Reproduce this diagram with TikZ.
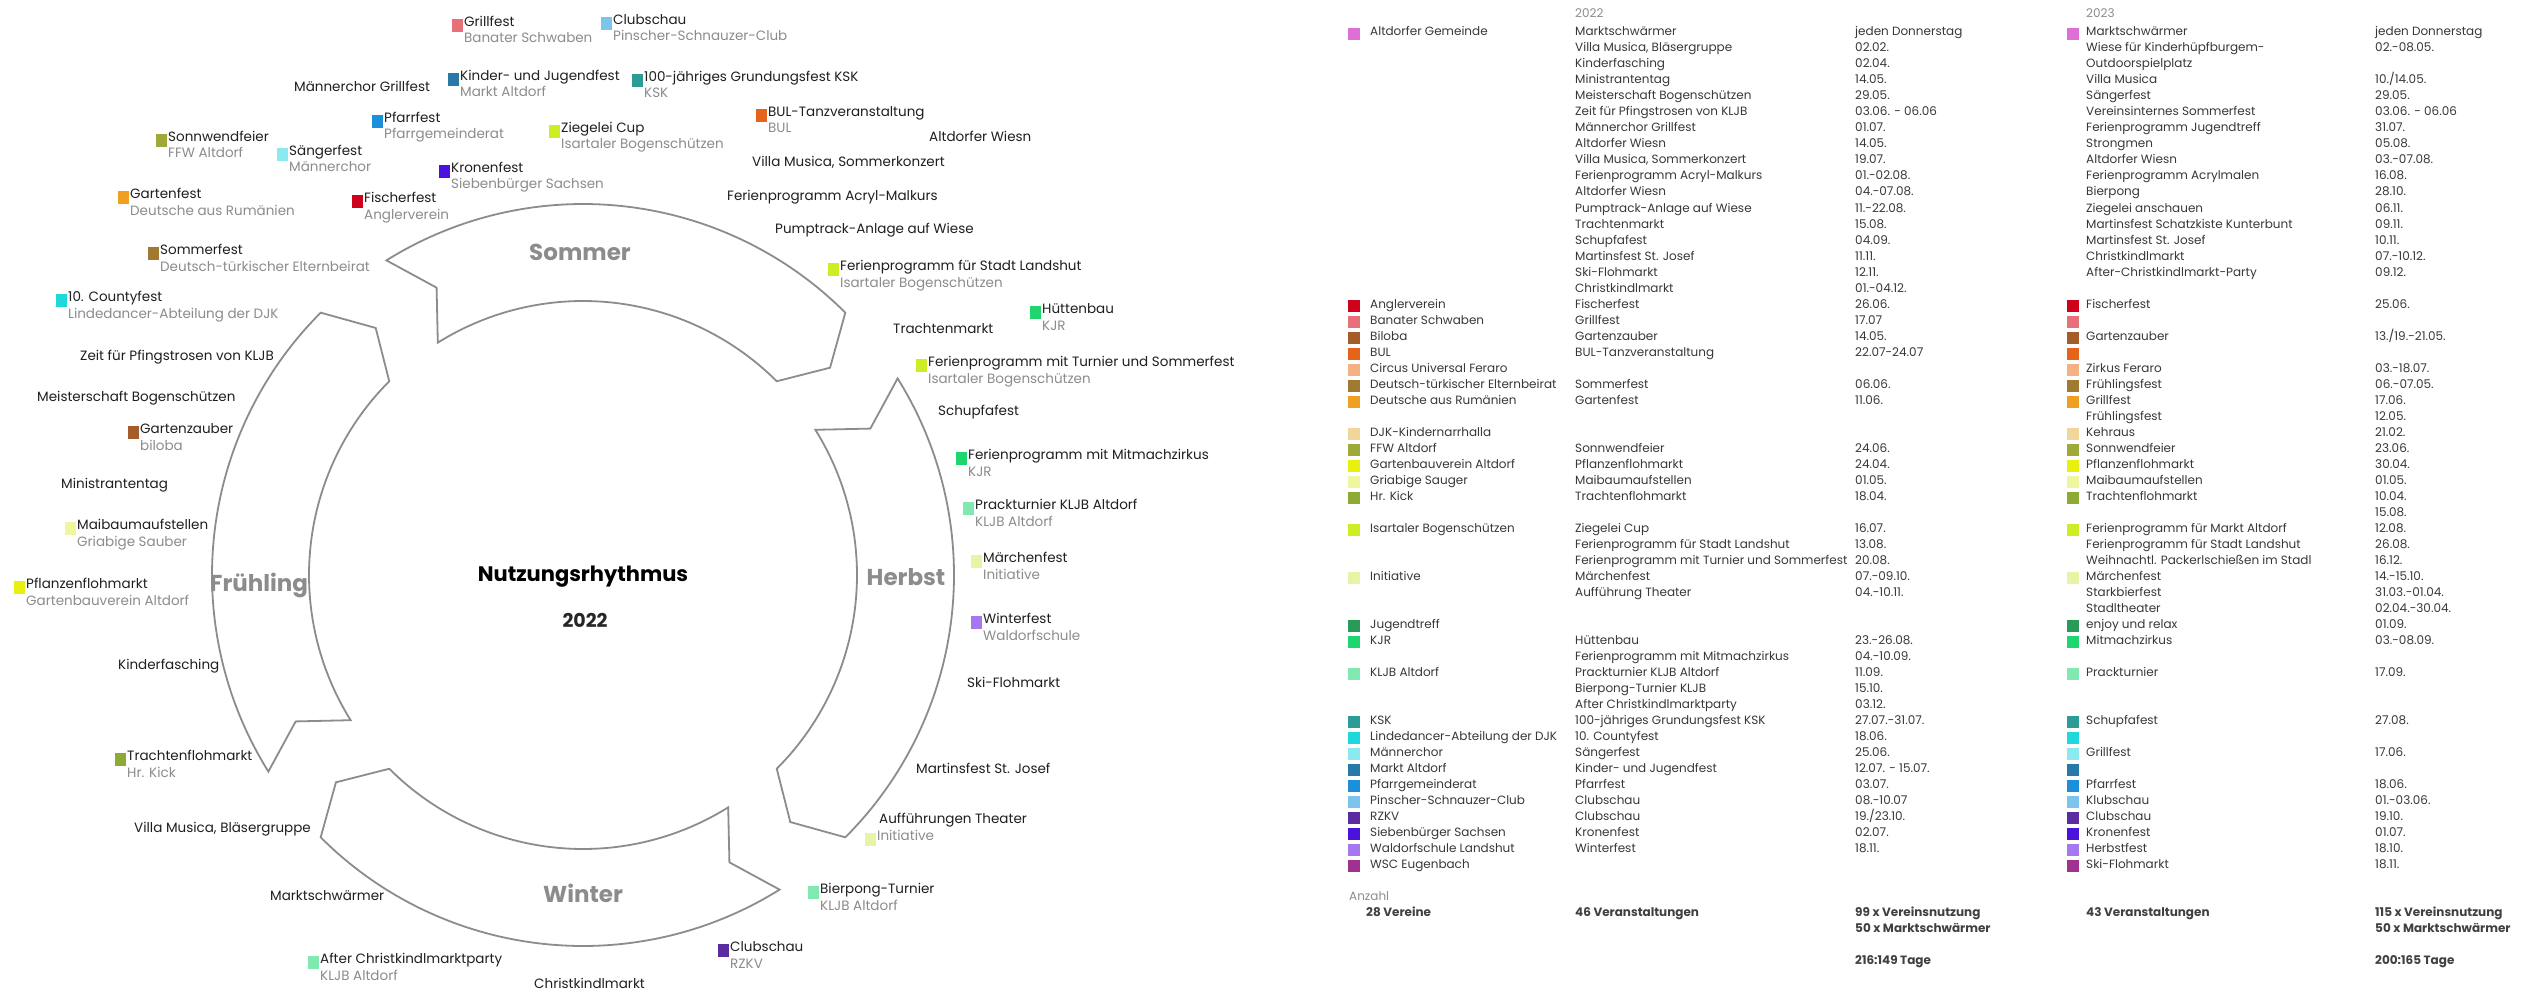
\documentclass[tikz,border=0pt]{standalone}
\usepackage{fontspec}
\setmainfont{Poppins}
\definecolor{cGem}{HTML}{DD6FD6}
\definecolor{cAng}{HTML}{D0021B}
\definecolor{cBan}{HTML}{E8707A}
\definecolor{cBil}{HTML}{A65B2A}
\definecolor{cBUL}{HTML}{E8631A}
\definecolor{cCir}{HTML}{F4B183}
\definecolor{cDtE}{HTML}{A07A30}
\definecolor{cDaR}{HTML}{F0A020}
\definecolor{cDJK}{HTML}{F2D59A}
\definecolor{cFFW}{HTML}{9EA93A}
\definecolor{cGaV}{HTML}{E8F010}
\definecolor{cGri}{HTML}{F0F5A0}
\definecolor{cKick}{HTML}{8DAA35}
\definecolor{cIsa}{HTML}{CCEE22}
\definecolor{cIni}{HTML}{E9F3A5}
\definecolor{cJug}{HTML}{2A9A58}
\definecolor{cKJR}{HTML}{1FD66E}
\definecolor{cKLJB}{HTML}{80E8B0}
\definecolor{cKSK}{HTML}{2B9C96}
\definecolor{cLin}{HTML}{1ED8DC}
\definecolor{cMae}{HTML}{8CEAEE}
\definecolor{cMA}{HTML}{2878A8}
\definecolor{cPfa}{HTML}{1B8EDC}
\definecolor{cPin}{HTML}{7CC4EE}
\definecolor{cRZ}{HTML}{5B2CA0}
\definecolor{cSie}{HTML}{4B12DD}
\definecolor{cWal}{HTML}{A678F0}
\definecolor{cWSC}{HTML}{A0318F}
\newcommand\evt[6]{%
  \node[sq,fill=#4,anchor=east] (#1q) at (#2-1,#3+2.5) {};
  \node[lbl] (#1) at (#2,#3) {#5};
  \node[sub] (#1b) at (#2,#3+16.5) {#6};}
\newcommand\seg[1]{%
  \pgfmathsetmacro\mysegA{#1}\pgfmathsetmacro\mysegB{#1+77}%
  \pgfmathsetmacro\mysegT{#1+82}\pgfmathsetmacro\mysegN{#1+5}%
  \draw[ring] plot[domain=\mysegA:\mysegB,samples=90] ({583+371*cos(\x)},{575+371*sin(\x)})
    -- ({583+322.5*cos(\mysegT)},{575+322.5*sin(\mysegT)})
    -- plot[domain=\mysegB:\mysegA,samples=90] ({583+274*cos(\x)},{575+274*sin(\x)})
    -- ({583+322.5*cos(\mysegN)},{575+322.5*sin(\mysegN)}) -- cycle;}
\newcommand\orgrow[3]{%
  \node[tsq,fill=#2] (oq#1) at (1354,33+16*#1+1) {};
  \node[tb] (org#1) at (1370,33+16*#1) {#3};}
\newcommand\evrow[3]{%
  \node[tb] (ev#1) at (1575,33+16*#1) {#2};
  \node[tb] (dt#1) at (1855,33+16*#1) {#3};}
\newcommand\nwrow[3]{%
  \node[tb] (nev#1) at (2086,33+16*#1) {#2};
  \node[tb] (ndt#1) at (2375,33+16*#1) {#3};}
\newcommand\nsq[2]{%
  \node[tsq,fill=#2] (nq#1) at (2073,33+16*#1+1) {};}
\begin{document}
\begin{tikzpicture}[x=1pt,y=-1pt,
  lbl/.style={anchor=west,inner sep=0pt,text height=10pt,text depth=3pt,font=\fontsize{13.5}{16}\selectfont,text=black!88},
  sub/.style={lbl,text=black!45},
  sq/.style={inner sep=0pt,minimum width=11pt,minimum height=13pt,draw=none},
  tsq/.style={inner sep=0pt,minimum width=12pt,minimum height=12pt,draw=none},
  tb/.style={anchor=west,inner sep=0pt,text height=9pt,text depth=3pt,font=\fontsize{12}{14}\selectfont,text=black!78},
  tbb/.style={tb,font=\fontsize{12}{14}\selectfont\bfseries,text=black!75},
  tgray/.style={tb,text=black!45},
  ring/.style={draw=black!45,line width=1.8pt,fill=white,line join=miter},
  season/.style={inner sep=0pt,font=\fontsize{23}{26}\selectfont\bfseries,text=black!45},
  ]
\fill[white] (0,0) rectangle (2526,995);
\useasboundingbox (0,0) rectangle (2526,995);

% ring
\seg{148}
\seg{-122}
\seg{-32}
\seg{58}
\node[season] (sSo) at (580,252) {Sommer};
\node[season] (sHe) at (906,577) {Herbst};
\node[season] (sWi) at (583,893) {Winter};
\node[season] (sFr) at (259,585) {Frühling};
\node[inner sep=0pt,font=\fontsize{21}{24}\selectfont\bfseries] (title) at (583,577) {Nutzungsrhythmus};
\node[inner sep=0pt,font=\fontsize{19}{22}\selectfont\bfseries,text=black!85] (year) at (585,620) {2022};

% top cluster
\evt{grill}{464}{23}{cBan}{Grillfest}{Banater Schwaben}
\evt{club}{613}{21}{cPin}{Clubschau}{Pinscher-Schnauzer-Club}
\node[lbl] (mgrill) at (294,88) {Männerchor Grillfest};
\evt{kjf}{460}{77}{cMA}{Kinder- und Jugendfest}{Markt Altdorf}
\evt{ksk}{644}{78}{cKSK}{100-jähriges Grundungsfest KSK}{KSK}
\evt{bul}{768}{113}{cBUL}{BUL-Tanzveranstaltung}{BUL}
\node[lbl] (wiesn) at (929,138) {Altdorfer Wiesn};
\node[lbl] (villaS) at (752,163) {Villa Musica, Sommerkonzert};
\node[lbl] (acryl) at (727,197) {Ferienprogramm Acryl-Malkurs};
\node[lbl] (pump) at (775,230) {Pumptrack-Anlage auf Wiese};
\evt{fsl}{840}{267}{cIsa}{Ferienprogramm für Stadt Landshut}{Isartaler Bogenschützen}
\evt{huett}{1042}{310}{cKJR}{Hüttenbau}{KJR}
\node[lbl] (tracht) at (893,330) {Trachtenmarkt};
\evt{pfarr}{384}{119}{cPfa}{Pfarrfest}{Pfarrgemeinderat}
\evt{sonn}{168}{138}{cFFW}{Sonnwendfeier}{FFW Altdorf}
\evt{saeng}{289}{152}{cMae}{Sängerfest}{Männerchor}
\evt{ziegel}{561}{129}{cIsa}{Ziegelei Cup}{Isartaler Bogenschützen}
\evt{krone}{451}{169}{cSie}{Kronenfest}{Siebenbürger Sachsen}
\evt{garten}{130}{195}{cDaR}{Gartenfest}{Deutsche aus Rumänien}
\evt{fisch}{364}{199}{cAng}{Fischerfest}{Anglerverein}
\evt{sommerf}{160}{251}{cDtE}{Sommerfest}{Deutsch-türkischer Elternbeirat}
\evt{county}{68}{298}{cLin}{10. Countyfest}{Lindedancer-Abteilung der DJK}

% right side
\evt{fturn}{928}{363}{cIsa}{Ferienprogramm mit Turnier und Sommerfest}{Isartaler Bogenschützen}
\node[lbl] (schupf) at (938,412) {Schupfafest};
\evt{mitm}{968}{456}{cKJR}{Ferienprogramm mit Mitmachzirkus}{KJR}
\evt{prack}{975}{506}{cKLJB}{Prackturnier KLJB Altdorf}{KLJB Altdorf}
\evt{maerch}{983}{559}{cIni}{Märchenfest}{Initiative}
\evt{winterf}{983}{620}{cWal}{Winterfest}{Waldorfschule}
\node[lbl] (ski) at (967,684) {Ski-Flohmarkt};
\node[lbl] (martin) at (916,770) {Martinsfest St. Josef};
\node[lbl] (auff) at (879,820) {Aufführungen Theater};
\node[sq,fill=cIni,anchor=east] (iniq) at (876,839.5) {};
\node[sub] (inib) at (877,837) {Initiative};
\evt{bier}{820}{890}{cKLJB}{Bierpong-Turnier}{KLJB Altdorf}
\evt{clubr}{730}{948}{cRZ}{Clubschau}{RZKV}
\node[lbl] (christ) at (534,985) {Christkindlmarkt};
\evt{after}{320}{960}{cKLJB}{After Christkindlmarktparty}{KLJB Altdorf}
\node[lbl] (markt) at (270,897) {Marktschwärmer};
\node[lbl] (villaB) at (134,829) {Villa Musica, Bläsergruppe};
\evt{trfl}{127}{757}{cKick}{Trachtenflohmarkt}{Hr. Kick}
\node[lbl] (kinderf) at (118,666) {Kinderfasching};
\evt{pflanz}{26}{585}{cGaV}{Pflanzenflohmarkt}{Gartenbauverein Altdorf}
\evt{maib}{77}{526}{cGri}{Maibaumaufstellen}{Griabige Sauber}
\node[lbl] (minis) at (61,485) {Ministrantentag};
\evt{gzaub}{140}{430}{cBil}{Gartenzauber}{biloba}
\node[lbl] (meist) at (37,398) {Meisterschaft Bogenschützen};
\node[lbl] (pfingst) at (80,357) {Zeit für Pfingstrosen von KLJB};

% table headers
\node[tgray] (h22) at (1575,15) {2022};
\node[tgray] (h23) at (2086,15) {2023};

% organisations
\orgrow{0}{cGem}{Altdorfer Gemeinde}
\orgrow{17}{cAng}{Anglerverein}
\orgrow{18}{cBan}{Banater Schwaben}
\orgrow{19}{cBil}{Biloba}
\orgrow{20}{cBUL}{BUL}
\orgrow{21}{cCir}{Circus Universal Feraro}
\orgrow{22}{cDtE}{Deutsch-türkischer Elternbeirat}
\orgrow{23}{cDaR}{Deutsche aus Rumänien}
\orgrow{25}{cDJK}{DJK-Kindernarrhalla}
\orgrow{26}{cFFW}{FFW Altdorf}
\orgrow{27}{cGaV}{Gartenbauverein Altdorf}
\orgrow{28}{cGri}{Griabige Sauger}
\orgrow{29}{cKick}{Hr. Kick}
\orgrow{31}{cIsa}{Isartaler Bogenschützen}
\orgrow{34}{cIni}{Initiative}
\orgrow{37}{cJug}{Jugendtreff}
\orgrow{38}{cKJR}{KJR}
\orgrow{40}{cKLJB}{KLJB Altdorf}
\orgrow{43}{cKSK}{KSK}
\orgrow{44}{cLin}{Lindedancer-Abteilung der DJK}
\orgrow{45}{cMae}{Männerchor}
\orgrow{46}{cMA}{Markt Altdorf}
\orgrow{47}{cPfa}{Pfarrgemeinderat}
\orgrow{48}{cPin}{Pinscher-Schnauzer-Club}
\orgrow{49}{cRZ}{RZKV}
\orgrow{50}{cSie}{Siebenbürger Sachsen}
\orgrow{51}{cWal}{Waldorfschule Landshut}
\orgrow{52}{cWSC}{WSC Eugenbach}

% 2022 events
\evrow{0}{Marktschwärmer}{jeden Donnerstag}
\evrow{1}{Villa Musica, Bläsergruppe}{02.02.}
\evrow{2}{Kinderfasching}{02.04.}
\evrow{3}{Ministrantentag}{14.05.}
\evrow{4}{Meisterschaft Bogenschützen}{29.05.}
\evrow{5}{Zeit für Pfingstrosen von KLJB}{03.06. - 06.06}
\evrow{6}{Männerchor Grillfest}{01.07.}
\evrow{7}{Altdorfer Wiesn}{14.05.}
\evrow{8}{Villa Musica, Sommerkonzert}{19.07.}
\evrow{9}{Ferienprogramm Acryl-Malkurs}{01.-02.08.}
\evrow{10}{Altdorfer Wiesn}{04.-07.08.}
\evrow{11}{Pumptrack-Anlage auf Wiese}{11.-22.08.}
\evrow{12}{Trachtenmarkt}{15.08.}
\evrow{13}{Schupfafest}{04.09.}
\evrow{14}{Martinsfest St. Josef}{11.11.}
\evrow{15}{Ski-Flohmarkt}{12.11.}
\evrow{16}{Christkindlmarkt}{01.-04.12.}
\evrow{17}{Fischerfest}{26.06.}
\evrow{18}{Grillfest}{17.07}
\evrow{19}{Gartenzauber}{14.05.}
\evrow{20}{BUL-Tanzveranstaltung}{22.07-24.07}
\evrow{22}{Sommerfest}{06.06.}
\evrow{23}{Gartenfest}{11.06.}
\evrow{26}{Sonnwendfeier}{24.06.}
\evrow{27}{Pflanzenflohmarkt}{24.04.}
\evrow{28}{Maibaumaufstellen}{01.05.}
\evrow{29}{Trachtenflohmarkt}{18.04.}
\evrow{31}{Ziegelei Cup}{16.07.}
\evrow{32}{Ferienprogramm für Stadt Landshut}{13.08.}
\evrow{33}{Ferienprogramm mit Turnier und Sommerfest}{20.08.}
\evrow{34}{Märchenfest}{07.-09.10.}
\evrow{35}{Aufführung Theater}{04.-10.11.}
\evrow{38}{Hüttenbau}{23.-26.08.}
\evrow{39}{Ferienprogramm mit Mitmachzirkus}{04.-10.09.}
\evrow{40}{Prackturnier KLJB Altdorf}{11.09.}
\evrow{41}{Bierpong-Turnier KLJB}{15.10.}
\evrow{42}{After Christkindlmarktparty}{03.12.}
\evrow{43}{100-jähriges Grundungsfest KSK}{27.07.-31.07.}
\evrow{44}{10. Countyfest}{18.06.}
\evrow{45}{Sängerfest}{25.06.}
\evrow{46}{Kinder- und Jugendfest}{12.07. - 15.07.}
\evrow{47}{Pfarrfest}{03.07.}
\evrow{48}{Clubschau}{08.-10.07}
\evrow{49}{Clubschau}{19./23.10.}
\evrow{50}{Kronenfest}{02.07.}
\evrow{51}{Winterfest}{18.11.}

% 2023 events
\nsq{0}{cGem}
\nwrow{0}{Marktschwärmer}{jeden Donnerstag}
\nwrow{1}{Wiese für Kinderhüpfburgem-}{02.-08.05.}
\nwrow{2}{Outdoorspielplatz}{}
\nwrow{3}{Villa Musica}{10./14.05.}
\nwrow{4}{Sängerfest}{29.05.}
\nwrow{5}{Vereinsinternes Sommerfest}{03.06. - 06.06}
\nwrow{6}{Ferienprogramm Jugendtreff}{31.07.}
\nwrow{7}{Strongmen}{05.08.}
\nwrow{8}{Altdorfer Wiesn}{03.-07.08.}
\nwrow{9}{Ferienprogramm Acrylmalen}{16.08.}
\nwrow{10}{Bierpong}{28.10.}
\nwrow{11}{Ziegelei anschauen}{06.11.}
\nwrow{12}{Martinsfest Schatzkiste Kunterbunt}{09.11.}
\nwrow{13}{Martinsfest St. Josef}{10.11.}
\nwrow{14}{Christkindlmarkt}{07.-10.12.}
\nwrow{15}{After-Christkindlmarkt-Party}{09.12.}
\nsq{17}{cAng}\nwrow{17}{Fischerfest}{25.06.}
\nsq{18}{cBan}
\nsq{19}{cBil}\nwrow{19}{Gartenzauber}{13./19.-21.05.}
\nsq{20}{cBUL}
\nsq{21}{cCir}\nwrow{21}{Zirkus Feraro}{03.-18.07.}
\nsq{22}{cDtE}\nwrow{22}{Frühlingsfest}{06.-07.05.}
\nsq{23}{cDaR}\nwrow{23}{Grillfest}{17.06.}
\nwrow{24}{Frühlingsfest}{12.05.}
\nsq{25}{cDJK}\nwrow{25}{Kehraus}{21.02.}
\nsq{26}{cFFW}\nwrow{26}{Sonnwendfeier}{23.06.}
\nsq{27}{cGaV}\nwrow{27}{Pflanzenflohmarkt}{30.04.}
\nsq{28}{cGri}\nwrow{28}{Maibaumaufstellen}{01.05.}
\nsq{29}{cKick}\nwrow{29}{Trachtenflohmarkt}{10.04.}
\nwrow{30}{}{15.08.}
\nsq{31}{cIsa}\nwrow{31}{Ferienprogramm für Markt Altdorf}{12.08.}
\nwrow{32}{Ferienprogramm für Stadt Landshut}{26.08.}
\nwrow{33}{Weihnachtl. Packerlschießen im Stadl}{16.12.}
\nsq{34}{cIni}\nwrow{34}{Märchenfest}{14.-15.10.}
\nwrow{35}{Starkbierfest}{31.03.-01.04.}
\nwrow{36}{Stadltheater}{02.04.-30.04.}
\nsq{37}{cJug}\nwrow{37}{enjoy und relax}{01.09.}
\nsq{38}{cKJR}\nwrow{38}{Mitmachzirkus}{03.-08.09.}
\nsq{40}{cKLJB}\nwrow{40}{Prackturnier}{17.09.}
\nsq{43}{cKSK}\nwrow{43}{Schupfafest}{27.08.}
\nsq{44}{cLin}
\nsq{45}{cMae}\nwrow{45}{Grillfest}{17.06.}
\nsq{46}{cMA}
\nsq{47}{cPfa}\nwrow{47}{Pfarrfest}{18.06.}
\nsq{48}{cPin}\nwrow{48}{Klubschau}{01.-03.06.}
\nsq{49}{cRZ}\nwrow{49}{Clubschau}{19.10.}
\nsq{50}{cSie}\nwrow{50}{Kronenfest}{01.07.}
\nsq{51}{cWal}\nwrow{51}{Herbstfest}{18.10.}
\nsq{52}{cWSC}\nwrow{52}{Ski-Flohmarkt}{18.11.}

% totals
\node[tgray] (anz) at (1349,897) {Anzahl};
\node[tbb] (ver) at (1366,913) {28 Vereine};
\node[tbb] (v46) at (1575,913) {46 Veranstaltungen};
\node[tbb] (n99) at (1855,913) {99 x Vereinsnutzung};
\node[tbb] (n50) at (1855,929) {50 x Marktschwärmer};
\node[tbb] (t216) at (1855,961) {216:149 Tage};
\node[tbb] (v43) at (2086,913) {43 Veranstaltungen};
\node[tbb] (n115) at (2375,913) {115 x Vereinsnutzung};
\node[tbb] (n50b) at (2375,929) {50 x Marktschwärmer};
\node[tbb] (t200) at (2375,961) {200:165 Tage};
\end{tikzpicture}
\end{document}
